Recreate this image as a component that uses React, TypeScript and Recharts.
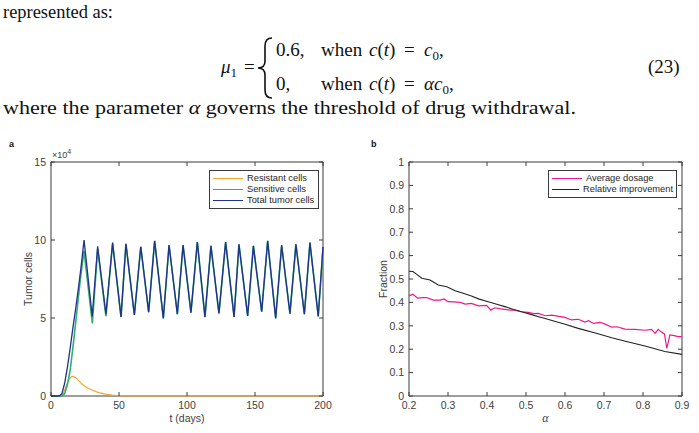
import React from "react";
import { Legend, Line, LineChart, ReferenceArea, XAxis, YAxis } from "recharts";

// ---- panel a: tumour cell counts (in units of 10^4) against time in days ----
const resistantDays = [0, 7, 9, 11, 13, 15.5, 18, 20, 23, 26, 30, 35, 40, 45, 50, 55, 200];
const resistantCells = [0, 0, 0.15, 0.6, 1.05, 1.27, 1.18, 1.02, 0.75, 0.55, 0.38, 0.22, 0.12, 0.06, 0.02, 0, 0];

const sensitiveEarlyDays = [0, 8, 10, 12, 14, 16, 18, 20, 22, 24.3, 30.4, 34.3, 40.4, 45.3];
const sensitiveEarlyCells = [0, 0, 0.15, 0.7, 1.6, 3.0, 4.6, 6.2, 7.8, 9.3, 4.65, 9.4, 5.12, 9.77];

const totalEarlyDays = [0, 6, 8, 10, 12, 14, 16, 18, 20, 22, 24.3, 30.3, 34.3, 40.4, 45.3];
const totalEarlyCells = [0, 0, 0.15, 0.8, 1.8, 3.0, 4.3, 5.5, 6.8, 8.2, 10.0, 5.1, 9.6, 5.24, 9.83];

// after the resistant clone dies out, sensitive and total cells share the dosing cycle
const cycleDays = [
  51.5, 55.1, 61.3, 66, 71.8, 76.2, 82.6, 86.8, 92.9, 97.1, 102.9, 107.6, 113.2, 117.6, 123.5,
  128.4, 134.6, 138.2, 144.6, 148.8, 154.9, 159.3, 165.2, 169.6, 175.7, 180.1, 186.3, 190.4, 196.5, 200,
];
const cycleCells = [
  5.06, 9.76, 5.19, 9.57, 5.38, 9.94, 4.98, 9.68, 5.24, 9.68, 5.34, 9.87, 5.06, 9.62, 5.3,
  9.87, 5.06, 9.72, 5.13, 9.62, 5.4, 9.94, 4.98, 9.66, 5.28, 9.72, 5.24, 9.83, 5.1, 9.55,
];

const dayTicks = [0, 50, 100, 150, 200];
const cellTicks = [0, 5, 10, 15];

// ---- panel b: fractions against the withdrawal threshold alpha ----
const dosageAlpha = [
  0.2, 0.21, 0.222, 0.235, 0.245, 0.262, 0.28, 0.29, 0.3, 0.315, 0.331, 0.344, 0.36, 0.378, 0.399,
  0.41, 0.42, 0.435, 0.446, 0.46, 0.472, 0.487, 0.506, 0.52, 0.532, 0.549, 0.566, 0.585, 0.6,
  0.617, 0.634, 0.651, 0.66, 0.673, 0.69, 0.703, 0.72, 0.733, 0.754, 0.779, 0.805, 0.822, 0.831,
  0.839, 0.848, 0.855, 0.861, 0.869, 0.88, 0.89, 0.9,
];
const averageDosage = [
  0.428, 0.435, 0.418, 0.42, 0.421, 0.41, 0.41, 0.415, 0.403, 0.402, 0.4, 0.393, 0.396, 0.385, 0.387,
  0.367, 0.377, 0.372, 0.37, 0.367, 0.367, 0.36, 0.357, 0.352, 0.353, 0.343, 0.346, 0.34, 0.336,
  0.325, 0.328, 0.316, 0.322, 0.31, 0.315, 0.307, 0.294, 0.296, 0.286, 0.285, 0.281, 0.285, 0.268,
  0.285, 0.272, 0.265, 0.204, 0.261, 0.258, 0.254, 0.254,
];

const improvementAlpha = [
  0.2, 0.21, 0.22, 0.233, 0.254, 0.275, 0.297, 0.318, 0.339, 0.36, 0.38, 0.403, 0.425, 0.446,
  0.468, 0.489, 0.51, 0.532, 0.549, 0.6, 0.634, 0.68, 0.72, 0.76, 0.805, 0.856, 0.9,
];
const relativeImprovement = [
  0.533, 0.532, 0.52, 0.503, 0.496, 0.474, 0.467, 0.45, 0.439, 0.427, 0.414, 0.403, 0.392, 0.382,
  0.37, 0.36, 0.35, 0.339, 0.331, 0.307, 0.289, 0.268, 0.249, 0.232, 0.214, 0.19, 0.178,
];

const alphaTicks = [0.2, 0.3, 0.4, 0.5, 0.6, 0.7, 0.8, 0.9];
const fractionTicks = [0, 0.1, 0.2, 0.3, 0.4, 0.5, 0.6, 0.7, 0.8, 0.9, 1];

const zip = (xs: number[], ys: number[]) => xs.map((x, i) => ({ x, y: ys[i] }));

const resistantSeries = zip(resistantDays, resistantCells);
const sensitiveSeries = zip([...sensitiveEarlyDays, ...cycleDays], [...sensitiveEarlyCells, ...cycleCells]);
const totalSeries = zip([...totalEarlyDays, ...cycleDays], [...totalEarlyCells, ...cycleCells]);
const dosageSeries = zip(dosageAlpha, averageDosage);
const improvementSeries = zip(improvementAlpha, relativeImprovement);

const SANS = "'Liberation Sans', Arial, Helvetica, sans-serif";
const SERIF = "'Liberation Serif', 'DejaVu Serif', serif";
const AXIS = "#3c3c3c";
const TICK_LEN = 4;

const tickText = { fontFamily: SANS, fontSize: 10.5, fill: "#404040" };

// MATLAB-style box: ticks point inwards on all four sides
const bottomTick = (plotTop: number) => (props: any) => {
  const { x, y, payload } = props;
  return (
    <g>
      <line x1={x} y1={y} x2={x} y2={y - TICK_LEN} stroke={AXIS} />
      <line x1={x} y1={plotTop} x2={x} y2={plotTop + TICK_LEN} stroke={AXIS} />
      <text x={x} y={y + 13} textAnchor="middle" {...tickText}>
        {String(payload.value)}
      </text>
    </g>
  );
};

const leftTick = (plotRight: number) => (props: any) => {
  const { x, y, payload } = props;
  return (
    <g>
      <line x1={x} y1={y} x2={x + TICK_LEN} y2={y} stroke={AXIS} />
      <line x1={plotRight} y1={y} x2={plotRight - TICK_LEN} y2={y} stroke={AXIS} />
      <text x={x - 5} y={y + 3.7} textAnchor="end" {...tickText}>
        {String(payload.value)}
      </text>
    </g>
  );
};

const legendBox = (width: number) => (props: any) => (
  <div
    style={{
      width,
      boxSizing: "border-box",
      border: `1px solid ${AXIS}`,
      background: "#fff",
      padding: "2px 3px 2px 3px",
      fontFamily: SANS,
      fontSize: 9.3,
      lineHeight: "11px",
      color: "#262626",
      whiteSpace: "nowrap",
    }}
  >
    {(props.payload ?? []).map((entry: any) => (
      <div key={entry.value} style={{ display: "flex", alignItems: "center" }}>
        <span
          style={{
            display: "inline-block",
            width: 30,
            borderTop: `1.5px solid ${entry.color}`,
            marginRight: 4,
          }}
        />
        <span>{entry.value}</span>
      </div>
    ))}
  </div>
);

const panelLabel = (text: string, left: number) => (
  <div
    style={{
      position: "absolute",
      left,
      top: 139,
      fontFamily: SANS,
      fontWeight: "bold",
      fontSize: 9,
      color: "#111",
    }}
  >
    {text}
  </div>
);

function TumorPanel() {
  const W = 350;
  const H = 293;
  const margin = { top: 22, right: 27, left: 0, bottom: 0 };
  return (
    <div style={{ position: "absolute", left: 0, top: 140 }}>
      <LineChart width={W} height={H} margin={margin}>
        <XAxis
          type="number"
          dataKey="x"
          domain={[0, 200]}
          ticks={dayTicks}
          interval={0}
          height={37}
          tickSize={0}
          tickMargin={0}
          tickLine={false}
          axisLine={false}
          tick={bottomTick(margin.top)}
          label={{ value: "t (days)", position: "insideBottom", offset: 11, fontFamily: SANS, fontSize: 10.5, fill: "#404040" }}
        />
        <YAxis
          type="number"
          dataKey="y"
          domain={[0, 15]}
          ticks={cellTicks}
          interval={0}
          width={51}
          tickSize={0}
          tickMargin={0}
          tickLine={false}
          axisLine={false}
          tick={leftTick(W - margin.right)}
          label={{ value: "Tumor cells", angle: -90, position: "insideLeft", offset: 28, textAnchor: "middle", fontFamily: SANS, fontSize: 10.5, fill: "#404040" }}
        />
        <ReferenceArea x1={0} x2={200} y1={0} y2={15} fill="none" stroke={AXIS} strokeWidth={1} />
        <Legend
          layout="horizontal"
          verticalAlign="middle"
          align="center"
          wrapperStyle={{ left: 209, top: 30, width: 110 }}
          content={legendBox(110)}
        />
        <Line data={resistantSeries} dataKey="y" name="Resistant cells" type="linear" stroke="#f5a52e" strokeWidth={1.2} dot={false} isAnimationActive={false} />
        <Line data={sensitiveSeries} dataKey="y" name="Sensitive cells" type="linear" stroke="#2fb06c" strokeWidth={1.6} dot={false} isAnimationActive={false} />
        <Line data={totalSeries} dataKey="y" name="Total tumor cells" type="linear" stroke="#22308e" strokeWidth={1.3} dot={false} isAnimationActive={false} />
      </LineChart>
      <div style={{ position: "absolute", left: 52, top: 8, fontFamily: SANS, fontSize: 9, color: "#404040" }}>
        ×10<sup style={{ fontSize: 7, verticalAlign: "4px" }}>4</sup>
      </div>
    </div>
  );
}

function FractionPanel() {
  const W = 349;
  const H = 293;
  const margin = { top: 22, right: 17, left: 0, bottom: 0 };
  return (
    <div style={{ position: "absolute", left: 350, top: 140 }}>
      <LineChart width={W} height={H} margin={margin}>
        <XAxis
          type="number"
          dataKey="x"
          domain={[0.2, 0.9]}
          ticks={alphaTicks}
          interval={0}
          height={37}
          tickSize={0}
          tickMargin={0}
          tickLine={false}
          axisLine={false}
          tick={bottomTick(margin.top)}
          label={{ value: "α", position: "insideBottom", offset: 11, fontFamily: SERIF, fontStyle: "italic", fontSize: 12, fill: "#404040" }}
        />
        <YAxis
          type="number"
          dataKey="y"
          domain={[0, 1]}
          ticks={fractionTicks}
          interval={0}
          width={59}
          tickSize={0}
          tickMargin={0}
          tickLine={false}
          axisLine={false}
          tick={leftTick(W - margin.right)}
          label={{ value: "Fraction", angle: -90, position: "insideLeft", offset: 33, textAnchor: "middle", fontFamily: SANS, fontSize: 10.5, fill: "#404040" }}
        />
        <ReferenceArea x1={0.2} x2={0.9} y1={0} y2={1} fill="none" stroke={AXIS} strokeWidth={1} />
        <Legend
          layout="horizontal"
          verticalAlign="middle"
          align="center"
          wrapperStyle={{ left: 198, top: 30, width: 129 }}
          content={legendBox(129)}
        />
        <Line data={dosageSeries} dataKey="y" name="Average dosage" type="linear" stroke="#f2168c" strokeWidth={1.2} dot={false} isAnimationActive={false} />
        <Line data={improvementSeries} dataKey="y" name="Relative improvement" type="linear" stroke="#222222" strokeWidth={1.1} dot={false} isAnimationActive={false} />
      </LineChart>
    </div>
  );
}

function Header() {
  const t = { fontFamily: SERIF, fill: "#111", fontSize: 19 };
  const sub = { fontSize: 13, dy: 4 };
  return (
    <svg width={699} height={125} style={{ position: "absolute", left: 0, top: 0 }}>
      <text x={3} y={18} textLength={110} lengthAdjust="spacingAndGlyphs" {...t}>represented as:</text>

      <text x={221} y={73} {...t}>
        <tspan fontStyle="italic">μ</tspan>
        <tspan {...sub}>1</tspan>
      </text>
      <text x={244} y={73} {...t}>=</text>
      <path
        d="M 272 38 Q 265 38 265 46 L 265 61 Q 265 68 258 68 Q 265 68 265 75 L 265 90 Q 265 98 272 98"
        fill="none"
        stroke="#111"
        strokeWidth={1.6}
      />

      <text x={276} y={56} {...t}>0.6,</text>
      <text x={321} y={56} {...t}>when</text>
      <text x={369} y={56} {...t}>
        <tspan fontStyle="italic">c</tspan>(<tspan fontStyle="italic">t</tspan>)
      </text>
      <text x={404} y={56} {...t}>=</text>
      <text x={424} y={56} {...t}>
        <tspan fontStyle="italic">c</tspan>
        <tspan {...sub}>0</tspan>
        <tspan dy={-4}>,</tspan>
      </text>

      <text x={276} y={90} {...t}>0,</text>
      <text x={321} y={90} {...t}>when</text>
      <text x={369} y={90} {...t}>
        <tspan fontStyle="italic">c</tspan>(<tspan fontStyle="italic">t</tspan>)
      </text>
      <text x={404} y={90} {...t}>=</text>
      <text x={424} y={90} {...t}>
        <tspan fontStyle="italic">αc</tspan>
        <tspan {...sub}>0</tspan>
        <tspan dy={-4}>,</tspan>
      </text>

      <text x={648} y={73} {...t}>(23)</text>

      <text x={3} y={114} textLength={573} lengthAdjust="spacingAndGlyphs" {...t}>
        where the parameter <tspan fontStyle="italic">α</tspan> governs the threshold of drug withdrawal.
      </text>
    </svg>
  );
}

export default function App() {
  return (
    <div
      style={{
        position: "fixed",
        left: 0,
        top: 0,
        width: 699,
        height: 433,
        background: "#fff",
        overflow: "hidden",
      }}
    >
      <Header />
      {panelLabel("a", 9)}
      {panelLabel("b", 371)}
      <TumorPanel />
      <FractionPanel />
    </div>
  );
}
